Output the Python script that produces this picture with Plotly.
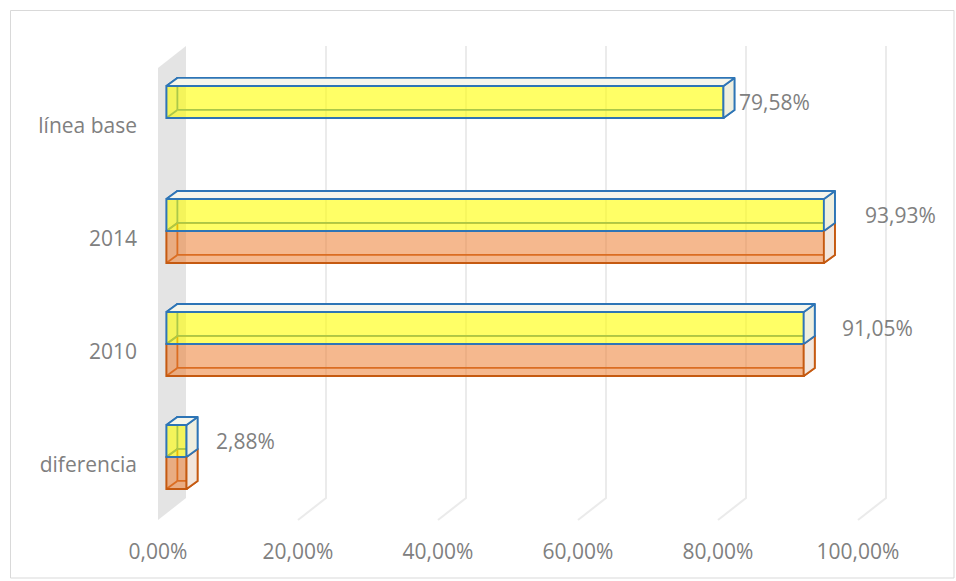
import plotly.graph_objects as go

# ---------------- data ----------------
categories = ["diferencia", "2010", "2014", "línea base"]
serie_amarilla = [2.88, 91.05, 93.93, 79.58]
serie_naranja = [2.88, 91.05, 93.93, None]
x_ticks = [0, 20, 40, 60, 80, 100]
x_tick_text = ["0,00%", "20,00%", "40,00%", "60,00%", "80,00%", "100,00%"]

# ---------------- style / geometry ----------------
W, H = 956, 581
L, R, T, B = 142, 900, 40, 537
X_RANGE = [-2.286, 106.0]
Y_RANGE = [-0.637, 3.761]

FONT = dict(family="Open Sans", size=21, color="#808080")

FLOOR_DX, FLOOR_DY = 4.0, 0.195
GRID_TOP = 3.708
FLOOR_FRONT_Y = -0.487
BAR_X0 = 1.2
BAR_DX, BAR_DY = 1.57, 0.071
BAR_W = 0.283
OFF_TOP, OFF_LOW = 0.071, -0.212
LABEL_SHIFT = [27, 36, 39, 14]

YEL_FILL, YEL_LINE, YEL_SIDE, YEL_TOPF = "rgba(255,255,0,0.6)", "#2E75B6", "#EFEFDF", "#F6F6EC"
ORA_FILL, ORA_LINE, ORA_SIDE = "rgba(237,125,49,0.55)", "#C55A11", "#F2E6DD"

fig = go.Figure()

# back wall
wx = [0, 0, FLOOR_DX, FLOOR_DX, 0]
wy = [FLOOR_FRONT_Y, GRID_TOP - FLOOR_DY, GRID_TOP, FLOOR_FRONT_Y + FLOOR_DY, FLOOR_FRONT_Y]
fig.add_trace(go.Scatter(x=wx, y=wy, fill="toself", fillcolor="#E4E4E4", mode="lines",
                         line=dict(width=0, color="#E4E4E4"), hoverinfo="skip", zorder=0))

# gridlines (back plane + floor foot)
gx, gy = [], []
for v in x_ticks[1:]:
    gx += [v + FLOOR_DX, v + FLOOR_DX, v, None]
    gy += [GRID_TOP, FLOOR_FRONT_Y + FLOOR_DY, FLOOR_FRONT_Y, None]
fig.add_trace(go.Scatter(x=gx, y=gy, mode="lines", line=dict(color="#EBEBEB", width=2),
                         hoverinfo="skip", zorder=0))


def box_traces(vals, off, fill, line, side, topf, name):
    ex, ey = [], []
    sx, sy = [], []
    tx, ty = [], []
    for i, v in enumerate(vals):
        if v is None:
            continue
        x0, x1 = BAR_X0, BAR_X0 + v
        yb = i + off
        yt = yb + BAR_W
        # back face + connecting edges
        ex += [x0 + BAR_DX, x1 + BAR_DX, x1 + BAR_DX, x0 + BAR_DX, x0 + BAR_DX, None]
        ey += [yb + BAR_DY, yb + BAR_DY, yt + BAR_DY, yt + BAR_DY, yb + BAR_DY, None]
        for xx, yy in [(x0, yb), (x1, yb), (x0, yt), (x1, yt)]:
            ex += [xx, xx + BAR_DX, None]
            ey += [yy, yy + BAR_DY, None]
        # side face
        sx += [x1, x1 + BAR_DX, x1 + BAR_DX, x1, x1, None]
        sy += [yb, yb + BAR_DY, yt + BAR_DY, yt, yb, None]
        # top face
        if topf:
            tx += [x0, x1, x1 + BAR_DX, x0 + BAR_DX, x0, None]
            ty += [yt, yt, yt + BAR_DY, yt + BAR_DY, yt, None]
    fig.add_trace(go.Scatter(x=ex, y=ey, mode="lines", line=dict(color=line, width=1.8),
                             hoverinfo="skip", zorder=1))
    fig.add_trace(go.Bar(y=list(range(len(vals))), x=vals, base=BAR_X0, offset=off, width=BAR_W,
                         orientation="h", name=name,
                         marker=dict(color=fill, line=dict(color=line, width=2)), zorder=2))
    fig.add_trace(go.Scatter(x=sx, y=sy, fill="toself", fillcolor=side, mode="lines",
                             line=dict(color=line, width=1.8), hoverinfo="skip", zorder=3))
    if topf:
        fig.add_trace(go.Scatter(x=tx, y=ty, fill="toself", fillcolor=topf, mode="lines",
                                 line=dict(color=line, width=1.8), hoverinfo="skip", zorder=3))


box_traces(serie_naranja, OFF_LOW, ORA_FILL, ORA_LINE, ORA_SIDE, None, "Serie2")
box_traces(serie_amarilla, OFF_TOP, YEL_FILL, YEL_LINE, YEL_SIDE, YEL_TOPF, "Serie1")

# data labels
for i, v in enumerate(serie_amarilla):
    fig.add_annotation(x=BAR_X0 + v, y=i + OFF_TOP + BAR_W / 2,
                       text=f"{v:.2f}".replace(".", ",") + "%",
                       showarrow=False, xanchor="left", yanchor="middle",
                       xshift=LABEL_SHIFT[i], font=FONT)

# chart border
pw, ph = R - L, B - T
fig.add_shape(type="rect", xref="paper", yref="paper",
              x0=(10.5 - L) / pw, x1=(954 - L) / pw,
              y0=(B - 578) / ph, y1=(B - 10.5) / ph,
              line=dict(color="#D9D9D9", width=1), layer="below")

fig.update_layout(
    width=W, height=H, autosize=False,
    margin=dict(l=L, r=W - R, t=T, b=H - B),
    paper_bgcolor="white", plot_bgcolor="white",
    showlegend=False, barmode="overlay",
    font=FONT,
    xaxis=dict(range=X_RANGE, tickvals=x_ticks, ticktext=x_tick_text, showgrid=False,
               zeroline=False, showline=False, ticks="", tickfont=FONT, fixedrange=True),
    yaxis=dict(range=Y_RANGE, tickvals=list(range(len(categories))), ticktext=categories,
               showgrid=False, zeroline=False, showline=False, ticks="", tickfont=FONT,
               ticklabelstandoff=4, fixedrange=True),
)

fig.write_html("out.html", config={"displayModeBar": False},
               post_script="document.body.style.margin='0';document.body.style.overflow='hidden';")
